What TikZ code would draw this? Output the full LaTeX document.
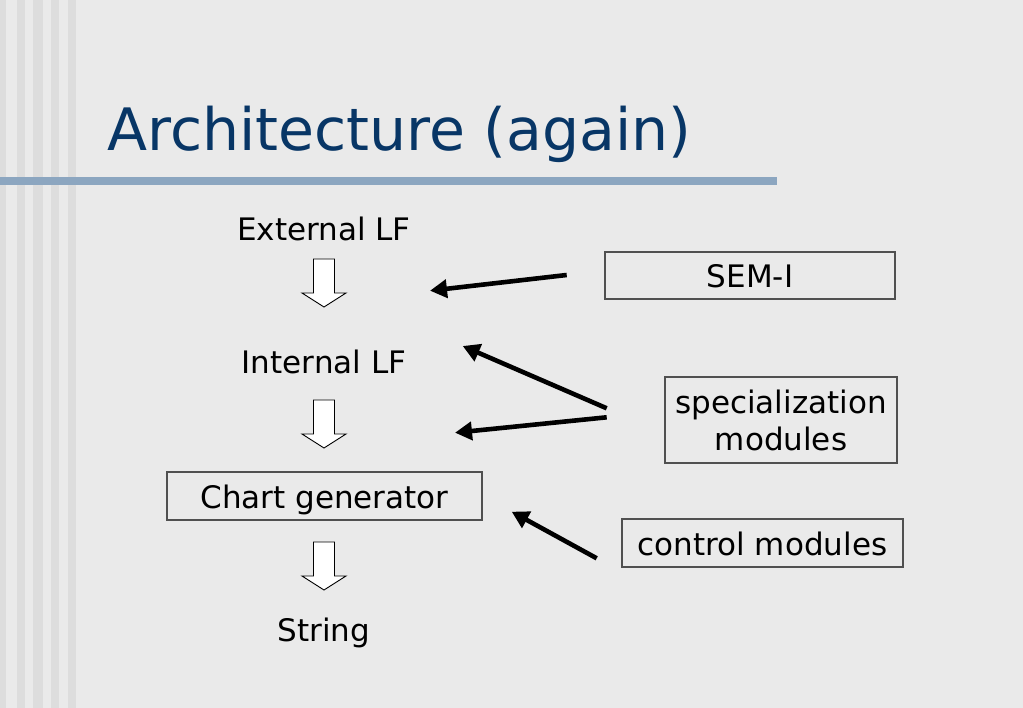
\documentclass[tikz,border=0pt]{standalone}
\usepackage{fontspec}
\setmainfont{DejaVu Sans}
\usetikzlibrary{arrows.meta}
\definecolor{bg}{RGB}{234,234,234}
\definecolor{stripe}{RGB}{221,221,221}
\definecolor{rule}{RGB}{140,166,192}
\definecolor{titleblue}{RGB}{8,54,102}
\definecolor{boxline}{RGB}{80,80,80}
\tikzset{
  body/.style={font=\fontsize{31}{37}\selectfont, text=black, inner sep=0pt},
  boxnode/.style={body, draw=boxline, line width=1.2pt, rectangle, text height=24pt, text depth=0pt},
  hollow/.style={draw=black, fill=white, line width=0.9pt, line join=miter},
  thick arrow/.style={line width=4.6pt, -{Triangle[length=17pt,width=18pt]}},
}
\begin{document}
\begin{tikzpicture}[x=1pt,y=-1pt]
\useasboundingbox (0,0) rectangle (1023,708);
\fill[bg] (0,0) rectangle (1023,708);
% stripes
\foreach \a/\b in {0/6,17/25,33/43,51/59,68/76}
  \fill[stripe] (\a,0) rectangle (\b,708);
% rule
\fill[rule] (0,177) rectangle (777,185);
% title
\node[anchor=base west, inner sep=0pt, text=titleblue, font=\fontsize{58.5}{70}\selectfont] (title) at (107,151) {Architecture (again)};
% left column
\node[body, anchor=base] (ext) at (324,241) {External LF};
\node[body, anchor=base] (int) at (324,374) {Internal LF};
\node[boxnode, minimum width=315pt, minimum height=48pt] (chart) at (324.5,496) {Chart generator};
\node[body, anchor=base] (str) at (324,641) {String};
% hollow arrows
\foreach \t/\nm in {259/h1,400/h2,542/h3}{
  \draw[hollow] (313.5,\t) -- (334.5,\t) -- (334.5,\t+34) -- (346,\t+34) -- (324,\t+48) -- (302,\t+34) -- (313.5,\t+34) -- cycle;
}
% right boxes
\node[boxnode, minimum width=290pt, minimum height=47pt] (sem) at (750,275.5) {SEM-I};
\node[body, draw=boxline, line width=1.2pt, rectangle, minimum width=232pt, minimum height=86pt, align=center] (spec) at (781,420) {specialization\\modules};
\node[boxnode, minimum width=281pt, minimum height=48pt] (ctrl) at (762.5,543) {control modules};
% arrow end coordinates
\coordinate (s1) at (566.7,275);
\coordinate (e1) at (430,290.7);
\coordinate (s2) at (606.7,408.3);
\coordinate (e2) at (462.7,346);
\coordinate (s3) at (606.7,417.3);
\coordinate (e3) at (455,432.7);
\coordinate (s4) at (596.7,558.3);
\coordinate (e4) at (511.7,511.7);
\draw[thick arrow] (s1) -- (e1);
\draw[thick arrow] (s2) -- (e2);
\draw[thick arrow] (s3) -- (e3);
\draw[thick arrow] (s4) -- (e4);
\end{tikzpicture}
\end{document}
